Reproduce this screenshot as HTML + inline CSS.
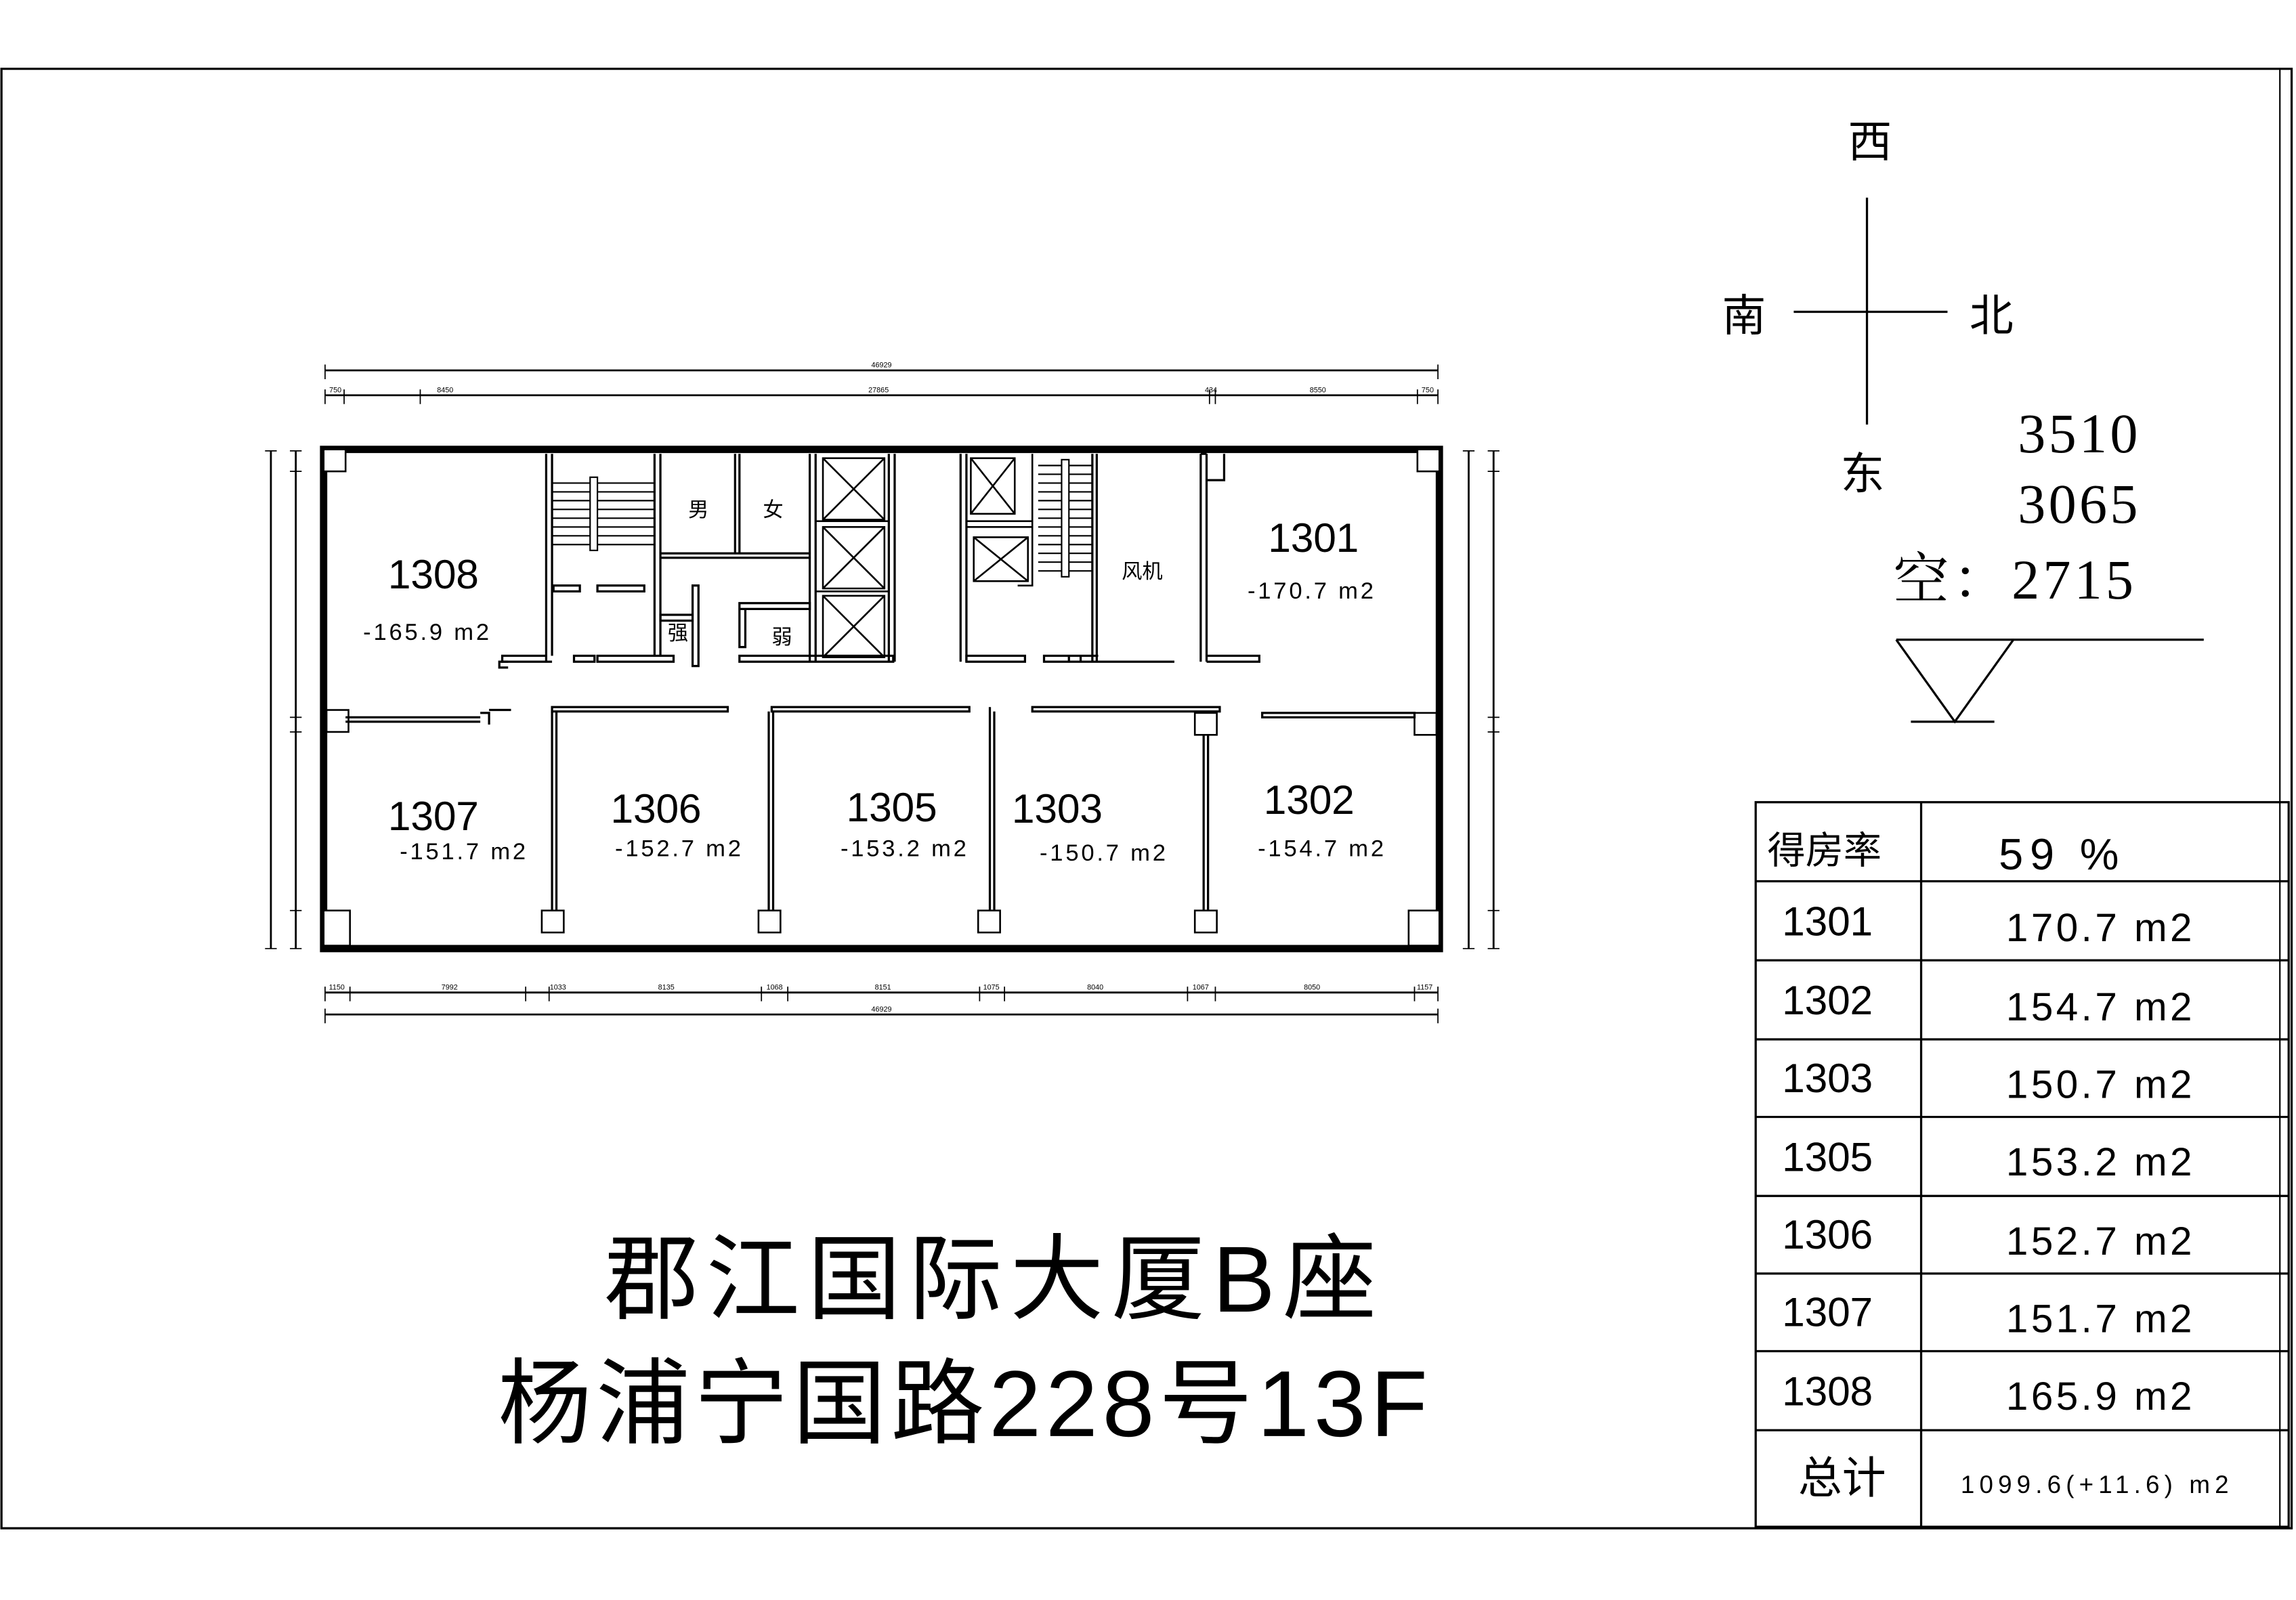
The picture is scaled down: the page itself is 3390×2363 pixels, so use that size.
<!DOCTYPE html>
<html><head><meta charset="utf-8"><style>
html,body{margin:0;padding:0;background:#fff;}
svg{display:block;}
text{font-family:"Liberation Sans","Noto Sans CJK SC",sans-serif;fill:#000;}
.s{font-family:"Liberation Serif","Noto Serif CJK SC",serif;}
</style></head><body>
<svg width="3390" height="2363" viewBox="0 0 1568 1093" preserveAspectRatio="none" xmlns="http://www.w3.org/2000/svg">
<rect width="1568" height="1093" fill="#fff"/>
<g fill="none" stroke="#000">
<rect x="1" y="47" width="1564" height="997" stroke-width="1.5"/>
<line x1="1557" y1="47" x2="1557" y2="1044" stroke-width="1"/>
<g stroke-width="1.3">
<line x1="222" y1="253" x2="982" y2="253"/><line x1="222" y1="270" x2="982" y2="270"/>
<line x1="222" y1="678" x2="982" y2="678"/><line x1="222" y1="693" x2="982" y2="693"/>
<line x1="185" y1="308" x2="185" y2="648"/><line x1="202" y1="308" x2="202" y2="648"/>
<line x1="1003" y1="308" x2="1003" y2="648"/><line x1="1020" y1="308" x2="1020" y2="648"/>
</g>
<g stroke-width="0.8">
<path d="M222 249v10M982 249v10M222 266v10M235 266v10M287 266v10M826 266v10M830 266v10M968 266v10M982 266v10"/>
<path d="M222 674v10M239 674v10M359 674v10M375 674v10M520 674v10M538 674v10M669 674v10M686 674v10M811 674v10M830 674v10M966 674v10M982 674v10M222 689v10M982 689v10"/>
<path d="M181 308h8M181 648h8M198 308h8M198 322h8M198 490h8M198 500h8M198 622h8M198 648h8"/>
<path d="M999 308h8M999 648h8M1016 308h8M1016 322h8M1016 490h8M1016 500h8M1016 622h8M1016 648h8"/>
</g>
<rect x="221" y="307" width="762" height="341" stroke-width="5"/>
<g stroke-width="1.2" fill="#fff">
<rect x="221" y="307" width="15" height="15"/><rect x="968" y="307" width="15" height="15"/>
<rect x="221" y="622" width="18" height="24"/><rect x="962" y="622" width="21" height="24"/>
<rect x="223" y="485" width="15" height="15"/><rect x="966" y="487" width="15" height="15"/>
<rect x="370" y="622" width="15" height="15"/><rect x="518" y="622" width="15" height="15"/>
<rect x="668" y="622" width="15" height="15"/><rect x="816" y="622" width="15" height="15"/>
<rect x="816" y="487" width="15" height="15"/>
</g>
<g stroke-width="1.5">
<path d="M373 310v142M377 310v138M447 310v138M451 310v138"/>
<path d="M502 310v68M505 310v68M451 378h102M451 381h102M553 310v142M557 310v142"/>
<path d="M373 448h-30v4h34M392 448h14v4h-14zM408 448h52v4h-52zM378 400h18v4h-18zM408 400h32v4h-32z"/>
<path d="M451 420h22v4h-22zM473 400h4v55h-4zM505 412h48v4h-48zM505 412v30h4v-26M505 448h105v4h-105z"/>
<path d="M607 310v142M611 310v142M656 310v142M660 310v142"/>
<path d="M660 448h40v4h-40zM713 448h25v4h-25zM746 310v142M749 310v142M750 448h-20v4h72"/>
<path d="M820 310v142M824 310v142M824 452h36v-4h-36M820 310h4M836 310v18h-12"/>
<path d="M347 452h-6v4h6"/>
</g>
<g stroke-width="1">
<path d="M377 330h70M377 336h70M377 342h70M377 348h70M377 354h70M377 360h70M377 366h70M377 372h70"/>
<rect x="403" y="326" width="5" height="50" fill="#fff"/>
<path d="M709 318h37M709 324h37M709 330h37M709 336h37M709 342h37M709 348h37M709 354h37M709 360h37M709 366h37M709 372h37M709 378h37M709 384h37M709 390h37"/>
<rect x="725" y="314" width="5" height="80" fill="#fff"/>
</g>
<g stroke-width="1.2">
<rect x="562" y="313" width="42" height="42"/><path d="M562 313l42 42M604 313l-42 42"/>
<rect x="562" y="360" width="42" height="42"/><path d="M562 360l42 42M604 360l-42 42"/>
<rect x="562" y="407" width="42" height="42"/><path d="M562 407l42 42M604 407l-42 42"/>
<path d="M557 356h50M557 404h50"/>
<rect x="663" y="313" width="30" height="38"/><path d="M663 313l30 38M693 313l-30 38"/>
<rect x="665" y="367" width="37" height="30"/><path d="M665 367l37 30M702 367l-37 30"/>
<path d="M660 356h45M660 360h45M705 310v90h-10"/>
</g>
<g stroke-width="1.5">
<path d="M236 490h92M236 493h92M328 487h6v8"/><path d="M334 485h15"/>
<path d="M377 483h120v3h-120zM527 483h135v3h-135zM705 483h128v3h-128zM862 487h104v3h-104z"/>
<path d="M377 486v136M380 486v136M525 486v136M528 486v136M676 486v136M679 486v136M822 502v120M825 502v120M676 483v8"/>
</g>
<g stroke-width="1.5">
<line x1="1275" y1="135" x2="1275" y2="290"/><line x1="1225" y1="213" x2="1330" y2="213"/>
<line x1="1295" y1="437" x2="1505" y2="437"/>
<path d="M1295 437L1335 493L1375 437"/><line x1="1305" y1="493" x2="1362" y2="493"/>
</g>
<g stroke-width="1.5">
<rect x="1199" y="548" width="364" height="495"/>
<line x1="1312" y1="548" x2="1312" y2="1043"/>
<path d="M1199 602h364M1199 656h364M1199 710h364M1199 763h364M1199 817h364M1199 870h364M1199 923h364M1199 977h364"/>
</g>
</g>
<g font-size="5" text-anchor="middle">
<text x="602" y="251">46929</text><text x="229" y="268">750</text><text x="304" y="268">8450</text><text x="600" y="268">27865</text><text x="827" y="268">434</text><text x="900" y="268">8550</text><text x="975" y="268">750</text>
<text x="230" y="676">1150</text><text x="307" y="676">7992</text><text x="381" y="676">1033</text><text x="455" y="676">8135</text><text x="529" y="676">1068</text><text x="603" y="676">8151</text><text x="677" y="676">1075</text><text x="748" y="676">8040</text><text x="820" y="676">1067</text><text x="896" y="676">8050</text><text x="973" y="676">1157</text><text x="602" y="691">46929</text>
</g>
<g font-size="28">
<text x="265" y="402" textLength="62">1308</text><text x="866" y="377" textLength="62">1301</text>
<text x="265" y="567" textLength="62">1307</text><text x="417" y="562" textLength="62">1306</text><text x="578" y="561" textLength="62">1305</text><text x="691" y="562" textLength="62">1303</text><text x="863" y="556" textLength="62">1302</text>
</g>
<g font-size="16">
<text x="248" y="437" textLength="86">-165.9 m2</text><text x="852" y="409" textLength="86">-170.7 m2</text>
<text x="273" y="587" textLength="86">-151.7 m2</text><text x="420" y="585" textLength="86">-152.7 m2</text><text x="574" y="585" textLength="86">-153.2 m2</text><text x="710" y="588" textLength="86">-150.7 m2</text><text x="859" y="585" textLength="86">-154.7 m2</text>
</g>
<g font-size="14">
<text x="470" y="353">男</text><text x="521" y="353">女</text><text x="456" y="437">强</text><text x="527" y="440">弱</text><text x="766" y="395">风机</text>
</g>
<g font-size="30" text-anchor="middle">
<text x="1277" y="107">西</text><text x="1191" y="226">南</text><text x="1360" y="226">北</text><text x="1272" y="334">东</text>
</g>
<g font-size="38">
<text x="1378" y="309" class="s" textLength="82">3510</text><text x="1378" y="357" class="s" textLength="82">3065</text><text x="1293" y="409" class="s" textLength="164">空：2715</text>
</g>
<text x="1207" y="590" font-size="26">得房率</text><text x="1365" y="594" font-size="30" textLength="82">59 %</text>
<g font-size="28">
<text x="1217" y="639" textLength="62">1301</text><text x="1217" y="693" textLength="62">1302</text><text x="1217" y="746" textLength="62">1303</text><text x="1217" y="800" textLength="62">1305</text><text x="1217" y="853" textLength="62">1306</text><text x="1217" y="906" textLength="62">1307</text><text x="1217" y="960" textLength="62">1308</text>
</g>
<text x="1228" y="1020" font-size="30">总计</text>
<g font-size="27">
<text x="1370" y="643" textLength="127">170.7 m2</text><text x="1370" y="697" textLength="127">154.7 m2</text><text x="1370" y="750" textLength="127">150.7 m2</text><text x="1370" y="803" textLength="127">153.2 m2</text><text x="1370" y="857" textLength="127">152.7 m2</text><text x="1370" y="910" textLength="127">151.7 m2</text><text x="1370" y="963" textLength="127">165.9 m2</text>
</g>
<text x="1339" y="1020" font-size="17" textLength="183">1099.6(+11.6) m2</text>
<text x="413" y="896" font-size="64" textLength="527">郡江国际大厦B座</text>
<text x="340" y="981" font-size="64" textLength="635">杨浦宁国路228号13F</text>
</svg>
</body></html>
